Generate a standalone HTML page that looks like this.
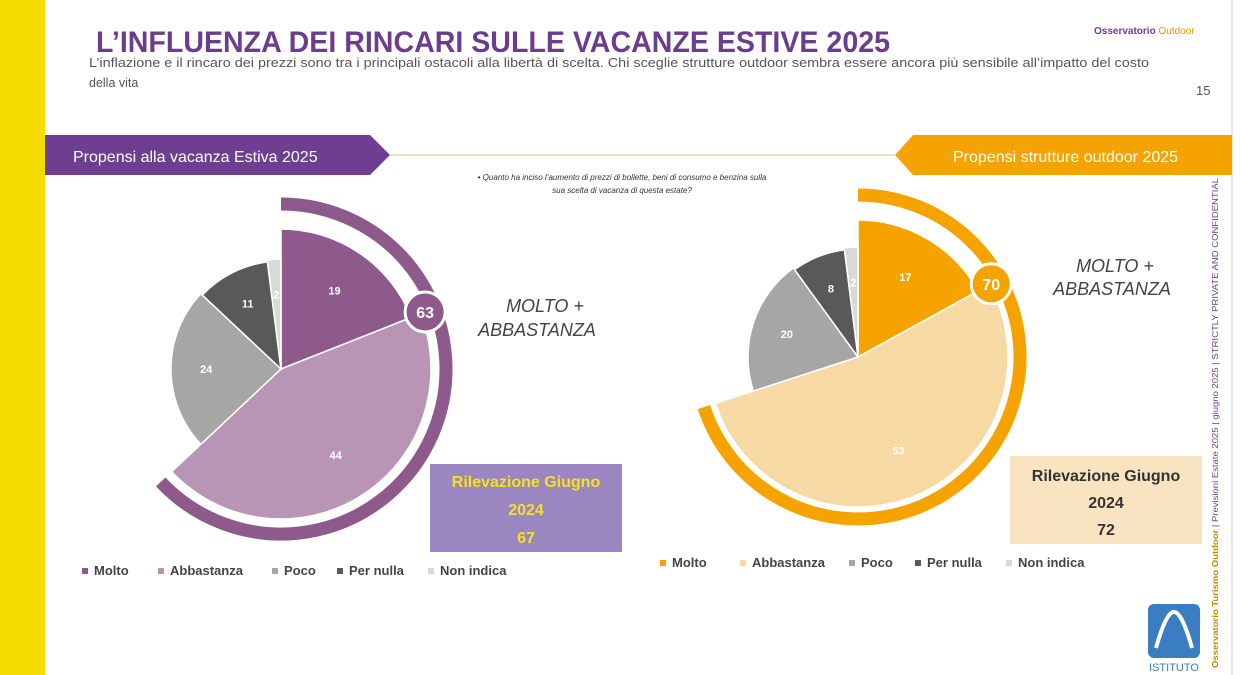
<!DOCTYPE html>
<html><head><meta charset="utf-8">
<style>
body{margin:0;width:1240px;height:675px;overflow:hidden;background:#fff;font-family:"Liberation Sans",sans-serif;}
svg{position:absolute;left:0;top:0}
</style></head>
<body>
<svg id="s" width="1240" height="675">
<rect x="0" y="0" width="45" height="675" fill="#f5dc00"/>
<line x1="1232" y1="0" x2="1232" y2="675" stroke="#ccc" stroke-width="1"/>
<text x="96" y="52" font-size="30" font-weight="bold" fill="#6b3d8f" textLength="794" lengthAdjust="spacingAndGlyphs">L’INFLUENZA DEI RINCARI SULLE VACANZE ESTIVE 2025</text>
<text x="89" y="67" font-size="12.5" fill="#555" textLength="1060" lengthAdjust="spacingAndGlyphs">L’inflazione e il rincaro dei prezzi sono tra i principali ostacoli alla libertà di scelta. Chi sceglie strutture outdoor sembra essere ancora più sensibile all’impatto del costo</text>
<text x="89" y="87" font-size="12.5" fill="#555">della vita</text>
<text x="1094" y="34" font-size="10" font-weight="bold" fill="#6b3d8f">Osservatorio <tspan fill="#e69a00" font-weight="normal">Outdoor</tspan></text>
<text x="1196" y="95" font-size="13" fill="#555">15</text>
<polygon points="45,135 370,135 390,155 370,175 45,175" fill="#6e3f91"/>
<text x="73" y="162" font-size="16" fill="#fff">Propensi alla vacanza Estiva 2025</text>
<line x1="390" y1="155" x2="895" y2="155" stroke="#d8d0a0" stroke-width="1.2"/>
<polygon points="913,135 1232,135 1232,175 913,175 895,155" fill="#f5a300"/>
<text x="953" y="162" font-size="16" fill="#fff">Propensi strutture outdoor 2025</text>
<text x="622" y="180" font-size="8" font-style="italic" fill="#333" text-anchor="middle">• Quanto ha inciso l’aumento di prezzi di bollette, beni di consumo e benzina sulla</text>
<text x="622" y="193" font-size="8" font-style="italic" fill="#333" text-anchor="middle">sua scelta di vacanza di questa estate?</text>
<g id="left"></g>
<g id="right"></g>
<text x="545" y="312" font-size="18" font-style="italic" fill="#444" text-anchor="middle">MOLTO +</text>
<text x="537" y="336" font-size="18" font-style="italic" fill="#444" text-anchor="middle">ABBASTANZA</text>
<text x="1115" y="272" font-size="18" font-style="italic" fill="#444" text-anchor="middle">MOLTO +</text>
<text x="1112" y="295" font-size="18" font-style="italic" fill="#444" text-anchor="middle">ABBASTANZA</text>
<rect x="430" y="464" width="192" height="88" fill="#9c86c1"/>
<text x="526" y="487" font-size="16" font-weight="bold" fill="#f5e21a" text-anchor="middle">Rilevazione Giugno</text>
<text x="526" y="515" font-size="16" font-weight="bold" fill="#f5e21a" text-anchor="middle">2024</text>
<text x="526" y="543" font-size="16" font-weight="bold" fill="#f5e21a" text-anchor="middle">67</text>
<rect x="1010" y="456" width="192" height="88" fill="#f8e4c0"/>
<text x="1106" y="481" font-size="16" font-weight="bold" fill="#333" text-anchor="middle">Rilevazione Giugno</text>
<text x="1106" y="508" font-size="16" font-weight="bold" fill="#333" text-anchor="middle">2024</text>
<text x="1106" y="535" font-size="16" font-weight="bold" fill="#333" text-anchor="middle">72</text>
<g id="legL"></g>
<g id="legR"></g>
<text transform="translate(1218,668) rotate(-90)" font-size="8" fill="#6b3d8f" textLength="490" lengthAdjust="spacingAndGlyphs"><tspan font-weight="bold" fill="#c08a00">Osservatorio Turismo Outdoor</tspan> | Previsioni Estate 2025 | giugno 2025 | STRICTLY PRIVATE AND CONFIDENTIAL</text>
<g>
<rect x="1148" y="604" width="52" height="54" rx="6" fill="#3a7dc0"/>
<path d="M1156,648 Q1166,612 1174,612 Q1182,612 1192,648" fill="none" stroke="#fff" stroke-width="4"/>
<text x="1174" y="671" font-size="11" fill="#3a7dc0" text-anchor="middle">ISTITUTO</text>
</g>
</svg>
<script>
const categories=["Molto","Abbastanza","Poco","Per nulla","Non indica"];
const leftValues=[19,44,24,11,2];
const rightValues=[17,53,20,8,2];
const leftTotal=63, rightTotal=70;
const NS="http://www.w3.org/2000/svg";
function mk(tag,attrs,parent){const e=document.createElementNS(NS,tag);for(const k in attrs)e.setAttribute(k,attrs[k]);parent.appendChild(e);return e;}
function pt(cx,cy,r,frac){const a=frac*2*Math.PI;return [cx+r*Math.sin(a),cy-r*Math.cos(a)];}
function arcPath(cx,cy,r,f0,f1){const p0=pt(cx,cy,r,f0),p1=pt(cx,cy,r,f1);const lg=(f1-f0)>0.5?1:0;return `M${cx},${cy} L${p0[0]},${p0[1]} A${r},${r} 0 ${lg} 1 ${p1[0]},${p1[1]} Z`;}
function drawPie(g,cx,cy,vals,cols,radii,ringR,total,hl){
  const sum=vals.reduce((a,b)=>a+b,0);let acc=0;
  vals.forEach((v,i)=>{
    const f0=acc/sum,f1=(acc+v)/sum;acc+=v;
    const p=mk('path',{d:arcPath(cx,cy,radii[i],f0,f1),fill:cols[i],stroke:'#fff','stroke-width':1.5},g);
    
    
    const lp=pt(cx,cy,radii[i]*0.68,(f0+f1)/2);
    const t=mk('text',{x:lp[0],y:lp[1]+4,'font-size':11,'font-weight':'bold',fill:'#fff','text-anchor':'middle'},g);
    t.textContent=v;
    
    
  });
  const tf=total/100, ro=ringR;
  const a=pt(cx,cy,ro,0),b=pt(cx,cy,ro,tf);
  const ring=mk('path',{d:`M${a[0]},${a[1]} A${ro},${ro} 0 ${tf>0.5?1:0} 1 ${b[0]},${b[1]}`,fill:'none',stroke:hl,'stroke-width':13},g);
  
  
  const bf=vals[0]/sum, bp=pt(cx,cy,ringR-10,bf);
  const c=mk('circle',{cx:bp[0],cy:bp[1],r:20,fill:hl,stroke:'#fff','stroke-width':3},g);
  
  
  const bt=mk('text',{x:bp[0],y:bp[1]+6,'font-size':16,'font-weight':'bold',fill:'#fff','text-anchor':'middle'},g);
  bt.textContent=total;
}
const lc=['#8e5a8c','#b894b5','#a6a6a6','#595959','#d9d9d9'];
const rc=['#f6a300','#f7d9a3','#a6a6a6','#595959','#d9d9d9'];
drawPie(document.getElementById('left'),281,369,leftValues,lc,[140,150,110,108,110],165,leftTotal,'#8e5a8c');
drawPie(document.getElementById('right'),858,357,rightValues,rc,[137,150,110,108,110],162,rightTotal,'#f6a300');
function legend(g,x,y,cols,gaps){let cx=x;categories.forEach((c,i)=>{
  const r=mk('rect',{x:cx,y:y-7,width:6,height:6,fill:cols[i]},g);
  
  
  const t=mk('text',{x:cx+12,y:y,'font-size':13,'font-weight':'bold',fill:'#444'},g);
  t.textContent=c;
  
  
  cx+=gaps[i];});}
legend(document.getElementById('legL'),82,575,lc,[76,114,65,91,0]);
legend(document.getElementById('legR'),660,567,rc,[80,109,66,91,0]);
</script>
</body></html>
